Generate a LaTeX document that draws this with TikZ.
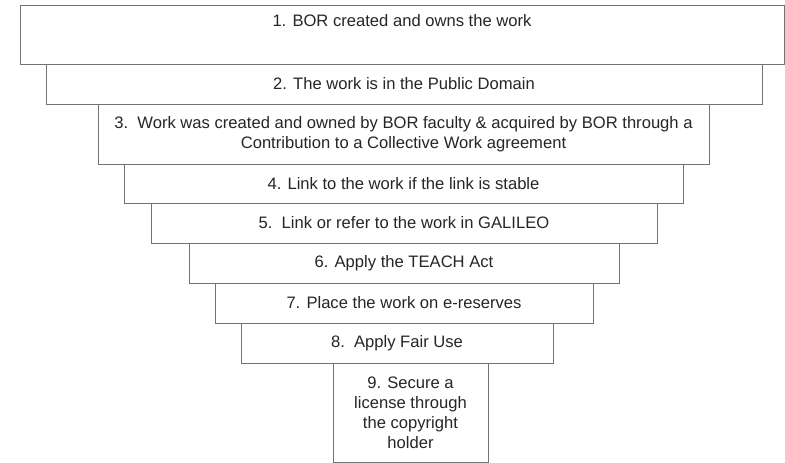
\documentclass[tikz,border=0pt]{standalone}
\usepackage{fontspec}
\setmainfont{Liberation Sans}
\usepackage{tikz}

\begin{document}
\begin{tikzpicture}[x=1pt,y=-1pt,
	tier/.style={draw=black!55, line width=1pt, fill=white, inner sep=0pt, align=center, text=black!85, font=\fontsize{16.6}{20}\selectfont}]

	\useasboundingbox (0,0) rectangle (785,463);

	\node[tier, minimum width=764pt, minimum height=59pt, text height=22pt, text depth=37pt] (t1) at (402,34.5) {1. BOR created and owns the work};
	
	\node[tier, minimum width=716pt, minimum height=40pt] (t2) at (404,84) {2. The work is in the Public Domain};
	
	\node[tier, minimum width=611pt, minimum height=60pt] (t3) at (403.5,134) {3.\ \ Work was created and owned by BOR faculty \& acquired by BOR through a\\Contribution to a Collective Work agreement};
	
	\node[tier, minimum width=559pt, minimum height=39pt] (t4) at (403.5,183.5) {4. Link to the work if the link is stable};
	
	\node[tier, minimum width=506pt, minimum height=40pt] (t5) at (404,223) {5.\ \ Link or refer to the work in GALILEO};
	
	\node[tier, minimum width=430pt, minimum height=40pt] (t6) at (404,263) {6. Apply the TEACH Act};
	
	\node[tier, minimum width=378pt, minimum height=40pt] (t7) at (404,303) {7. Place the work on e-reserves};
	
	\node[tier, minimum width=312pt, minimum height=40pt] (t8) at (397,343) {8.\ \ Apply Fair Use};
	
	\node[tier, minimum width=155pt, minimum height=99pt] (t9) at (410.5,412.5) {9. Secure a\\license through\\the copyright\\holder};
\end{tikzpicture}
\end{document}
